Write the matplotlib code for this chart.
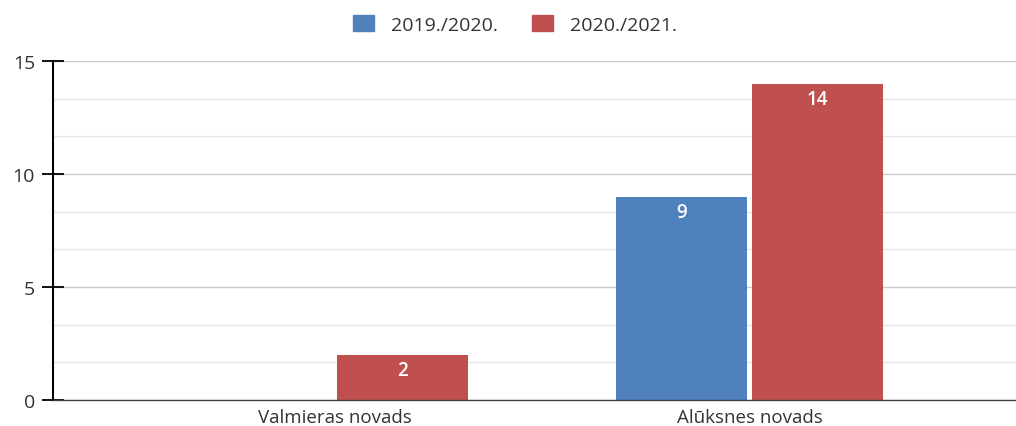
#!/usr/bin/env python3

import numpy as np
import matplotlib
matplotlib.use('Agg')
import matplotlib.pyplot as plt
from matplotlib.patches import Patch
from matplotlib.ticker import MultipleLocator

categories = ['Valmieras novads', 'Alūksnes novads']
series_names = ['2019./2020.', '2020./2021.']
values_2019 = [0, 9]
values_2020 = [2, 14]
colors = ['#4f81bd', '#c0504d']

plt.rcParams['font.family'] = ['Open Sans', 'DejaVu Sans']

fig = plt.figure(figsize=(10.16, 4.27), dpi=100)
ax = fig.add_axes([0.0522, 0.0609, 0.9478, 0.7939])

x = np.arange(len(categories))
width = 0.316
offset = 0.1635

for vals, off, col in ((values_2019, -offset, colors[0]), (values_2020, offset, colors[1])):
    bars = ax.bar(x + off, vals, width, color=col, zorder=3)
    for b, v in zip(bars, vals):
        if v == 0:
            continue
        ax.annotate(str(v), (b.get_x() + b.get_width() / 2, v), xytext=(0, -4),
                    textcoords='offset points', ha='center', va='top',
                    color='white', fontsize=13.5, fontweight='semibold', zorder=4)

ax.set_xlim(-0.680, 1.643)
ax.set_ylim(0, 15)
ax.yaxis.set_major_locator(MultipleLocator(5))
ax.yaxis.set_minor_locator(MultipleLocator(5 / 3))
ax.set_xticks(x)
ax.set_xticklabels(categories)

ax.grid(axis='y', which='major', color='#cccccc', linewidth=1, zorder=0)
ax.grid(axis='y', which='minor', color='#e6e6e6', linewidth=1, zorder=0)

for s in ('top', 'right'):
    ax.spines[s].set_visible(False)
ax.spines['left'].set_color('black')
ax.spines['left'].set_linewidth(1.5)
ax.spines['left'].set_zorder(5)
ax.spines['bottom'].set_color('#444444')
ax.spines['bottom'].set_linewidth(1)
ax.spines['bottom'].set_zorder(5)

ax.tick_params(axis='y', which='major', direction='inout', length=16, width=1.3,
               color='black', labelsize=14, labelcolor='#333333', pad=5)
ax.tick_params(axis='y', which='minor', length=0)
ax.tick_params(axis='x', length=0, labelsize=13.5, labelcolor='#333333', pad=6)

handles = [Patch(facecolor=c, edgecolor=c) for c in colors]
fig.legend(handles, series_names, loc='center', bbox_to_anchor=(0.507, 0.941), ncol=2,
           frameon=False, fontsize=14, handlelength=1.08, handleheight=0.93,
           columnspacing=1.75, handletextpad=0.88, labelcolor='#333333')

fig.savefig('out.png', dpi=100)
